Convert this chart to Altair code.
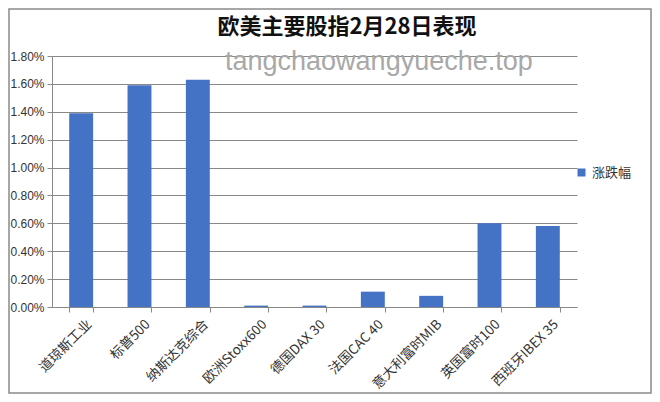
import altair as alt
import pandas as pd

categories = ["道琼斯工业", "标普500", "纳斯达克综合", "欧洲Stoxx600", "德国DAX 30",
              "法国CAC 40", "意大利富时MIB", "英国富时100", "西班牙IBEX 35"]
values = [0.0139, 0.0159, 0.0163, 0.0001, 0.0001, 0.0011, 0.0008, 0.0060, 0.0058]
series_name = "涨跌幅"
y_ticks = [0, 0.002, 0.004, 0.006, 0.008, 0.010, 0.012, 0.014, 0.016, 0.018]
title_text = "欧美主要股指2月28日表现"
watermark = "tangchaowangyueche.top"

df = pd.DataFrame({"指数": categories, "值": values, "系列": [series_name] * len(categories)})

W, H = 525, 251
PL, PT, PR, PB = 44, 48, 75, 87
FONT = "Noto Sans CJK SC"
GRAY = "#888888"

bars = alt.Chart(df).mark_bar(color="#4472C4").encode(
    x=alt.X("指数:N", sort=categories,
            scale=alt.Scale(paddingInner=0.59, paddingOuter=0.295),
            axis=alt.Axis(title=None, labelAngle=-45, tickBand="extent", tickSize=5,
                          tickColor=GRAY, domainColor=GRAY, labelFont=FONT,
                          labelFontSize=13.5, labelColor="#333333", labelPadding=5,
                          labelOffset=3)),
    y=alt.Y("值:Q", scale=alt.Scale(domain=[0, 0.018], nice=False),
            axis=alt.Axis(title=None, values=y_ticks, format=".2%", grid=True,
                          gridColor=GRAY, domainColor=GRAY, tickColor=GRAY, tickSize=5,
                          labelFont="Liberation Sans", labelFontSize=12,
                          labelColor="#333333", labelPadding=3)),
    color=alt.Color("系列:N", scale=alt.Scale(range=["#4472C4"]),
                    legend=alt.Legend(title=None, orient="none", legendX=523, legendY=110,
                                      symbolType="square", symbolSize=64,
                                      labelFont=FONT, labelFontSize=13,
                                      labelColor="#333333", symbolStrokeWidth=0)),
)

one = pd.DataFrame({"t": [watermark], "title": [title_text]})
wm = alt.Chart(one).mark_text(align="left", baseline="alphabetic", font="Liberation Sans",
                              fontSize=27, color="#a8a8a8").encode(
    x=alt.value(173), y=alt.value(14), text="t:N")

title = alt.Chart(one).mark_text(align="center", baseline="middle", font=FONT,
                                 fontSize=22, fontWeight="bold", color="#111111").encode(
    x=alt.value(295), y=alt.value(-29), text="title:N")

border = alt.Chart(one).mark_rect(filled=False, stroke="#8a8a8a", strokeWidth=1.5).encode(
    x=alt.value(-PL + 1), x2=alt.value(W + PR - 1),
    y=alt.value(-PT + 1), y2=alt.value(H + PB - 1))

chart = alt.layer(bars, wm, title, border).properties(
    width=W, height=H,
    autosize=alt.AutoSizeParams(type="none"),
    padding={"left": PL, "top": PT, "right": PR, "bottom": PB},
).configure_view(stroke=None)

chart.save("out.html", embed_options={"renderer": "svg", "actions": False})
